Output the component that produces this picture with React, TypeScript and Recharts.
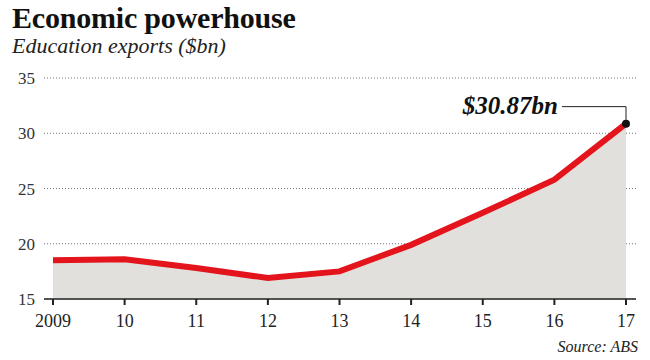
import {
	Area,
	CartesianGrid,
	ComposedChart,
	Line,
	XAxis,
	YAxis,
} from "recharts";

const years = ["2009", "10", "11", "12", "13", "14", "15", "16", "17"];
const exportsBn = [18.5, 18.6, 17.8, 16.9, 17.5, 19.9, 22.8, 25.8, 30.87];
const yTicks = [15, 20, 25, 30, 35];

const data = years.map((year, i) => ({ year, value: exportsBn[i] }));

const serif = '"Liberation Serif", "DejaVu Serif", serif';

const EndDot = (props: any) => {
	const { cx, cy, index } = props;
	if (index !== data.length - 1) return null;
	return <circle cx={cx} cy={cy} r={4} fill="#111" />;
};

const Callout = (props: any) => {
	const { x, y, index } = props;
	if (index !== data.length - 1) return null;
	const lineY = y - 17;
	return (
		<g>
			<polyline
				points={`${x - 64},${lineY} ${x},${lineY} ${x},${y - 3}`}
				fill="none"
				stroke="#222"
				strokeWidth={1}
			/>
			<text
				x={x - 68}
				y={lineY + 7}
				textAnchor="end"
				fontFamily={serif}
				fontSize={25}
				fontWeight="bold"
				fontStyle="italic"
				fill="#111"
			>
				${exportsBn[index].toFixed(2)}bn
			</text>
		</g>
	);
};

export default function App() {
	return (
		<div
			style={{
				position: "absolute",
				left: 0,
				top: 0,
				width: 650,
				height: 360,
				background: "#fff",
				fontFamily: serif,
			}}
		>
			<div
				style={{
					position: "absolute",
					left: 12,
					top: 1,
					fontSize: 30,
					fontWeight: "bold",
					color: "#111",
					letterSpacing: -0.2,
				}}
			>
				Economic powerhouse
			</div>
			<div
				style={{
					position: "absolute",
					left: 12,
					top: 33,
					fontSize: 22,
					fontStyle: "italic",
					color: "#222",
				}}
			>
				Education exports ($bn)
			</div>
			<ComposedChart
				width={650}
				height={360}
				data={data}
				margin={{ top: 78, right: 14, bottom: 31, left: 0 }}
			>
				<CartesianGrid
					vertical={false}
					stroke="#777"
					strokeDasharray="1 2"
				/>
				<XAxis
					dataKey="year"
					height={30}
					padding={{ left: 9, right: 10 }}
					axisLine={{ stroke: "#222", strokeWidth: 1.5 }}
					tickLine={{ stroke: "#222", strokeWidth: 2 }}
					tickSize={6}
					tickMargin={9}
					tick={{ fill: "#222", fontSize: 18, fontFamily: serif }}
					interval={0}
				/>
				<YAxis
					width={44}
					domain={[15, 35]}
					ticks={yTicks}
					axisLine={false}
					tickLine={false}
					tickSize={0}
					tickMargin={9}
					tick={{ fill: "#333", fontSize: 17, fontFamily: serif }}
				/>
				<Area
					type="linear"
					dataKey="value"
					baseValue={15}
					fill="#e1e0dc"
					fillOpacity={1}
					stroke="none"
					isAnimationActive={false}
				/>
				<Line
					type="linear"
					dataKey="value"
					stroke="#e3141c"
					strokeWidth={6}
					dot={<EndDot />}
					activeDot={false}
					label={<Callout />}
					isAnimationActive={false}
				/>
			</ComposedChart>
			<div
				style={{
					position: "absolute",
					right: 12,
					top: 338,
					fontSize: 16,
					fontStyle: "italic",
					color: "#222",
				}}
			>
				Source: ABS
			</div>
		</div>
	);
}
